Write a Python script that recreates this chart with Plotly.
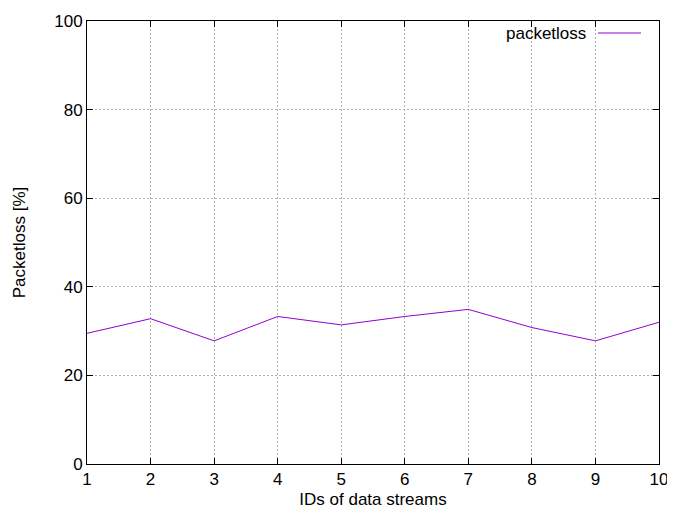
import plotly.graph_objects as go

stream_ids = [1, 2, 3, 4, 5, 6, 7, 8, 9, 10]
packetloss = [29.5, 32.8, 27.8, 33.3, 31.4, 33.3, 34.9, 30.8, 27.8, 32.0]
series_name = "packetloss"

FONT = dict(family="Liberation Sans", size=17, color="black")

fig = go.Figure()
fig.add_trace(go.Scatter(x=stream_ids, y=packetloss, mode="lines", name=series_name,
                         line=dict(color="#9400D3", width=1), showlegend=False))

axis_common = dict(showline=True, linecolor="black", linewidth=1, mirror="ticks",
                   ticks="inside", ticklen=6, tickcolor="black", automargin=False,
                   showgrid=True, gridcolor="#b0b0b0", griddash="2px,2px", gridwidth=1,
                   zeroline=False, tickfont=FONT)

fig.update_xaxes(range=[1, 10], dtick=1, title=dict(text="IDs of data streams", standoff=4, font=FONT),
                 **axis_common)
fig.update_yaxes(range=[0, 100], dtick=20, title=dict(text="Packetloss [%]", standoff=24, font=FONT),
                 **axis_common)

# page offset: the html body has an 8px margin
OFF = 8
W, H = 675 - OFF, 516 - OFF
L, R, T, B = 87 - OFF, 659 - OFF, 21 - OFF, 464 - OFF
ly = 33 - OFF
fig.add_annotation(xref="paper", yref="paper", x=(588 - OFF - L) / (R - L), y=(B - ly) / (B - T),
                   text=series_name, showarrow=False, xanchor="right", yanchor="middle", font=FONT)
fig.add_shape(type="line", xref="paper", yref="paper",
              x0=(598 - OFF - L) / (R - L), x1=(641 - OFF - L) / (R - L),
              y0=(B - ly) / (B - T), y1=(B - ly) / (B - T),
              line=dict(color="#9400D3", width=1))

fig.update_layout(width=W, height=H, margin=dict(l=L, r=W - R, t=T, b=H - B),
                  plot_bgcolor="white", paper_bgcolor="white", font=FONT)
fig.write_html("out.html")
